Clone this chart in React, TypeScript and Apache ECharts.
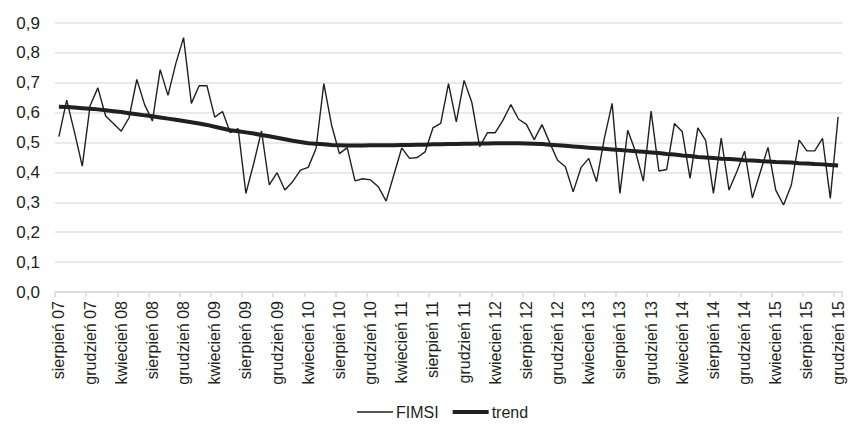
import React, { useEffect, useRef } from "react";
import * as echarts from "echarts";

const MONTHS = ["styczeń", "luty", "marzec", "kwiecień", "maj", "czerwiec", "lipiec", "sierpień", "wrzesień", "październik", "listopad", "grudzień"];
const START_YEAR = 2007;
const START_MONTH = 7; // sierpień
const COUNT = 101;
const categories = Array.from({ length: COUNT }, (_, i) => {
  const m = (START_MONTH + i) % 12;
  const y = START_YEAR + Math.floor((START_MONTH + i) / 12);
  return `${MONTHS[m]} ${String(y % 100).padStart(2, "0")}`;
});

const fimsi = [
  0.52, 0.642, 0.535, 0.421, 0.623, 0.683, 0.589, 0.564, 0.538, 0.583,
  0.711, 0.627, 0.572, 0.744, 0.658, 0.764, 0.851, 0.631, 0.69, 0.69,
  0.585, 0.604, 0.533, 0.547, 0.33, 0.43, 0.539, 0.358, 0.399, 0.341,
  0.369, 0.408, 0.417, 0.48, 0.697, 0.558, 0.463, 0.483, 0.372, 0.379,
  0.375, 0.352, 0.304, 0.393, 0.482, 0.447, 0.45, 0.469, 0.549, 0.564,
  0.697, 0.569, 0.708, 0.634, 0.486, 0.533, 0.533, 0.575, 0.627, 0.578,
  0.561, 0.51, 0.56, 0.499, 0.441, 0.419, 0.335, 0.416, 0.447, 0.369,
  0.514, 0.631, 0.33, 0.541, 0.47, 0.371, 0.605, 0.405, 0.41, 0.564,
  0.536, 0.38, 0.549, 0.507, 0.33, 0.515, 0.341, 0.402, 0.471, 0.315,
  0.4, 0.484, 0.341, 0.291, 0.358, 0.508, 0.472, 0.472, 0.514, 0.313,
  0.586,
];

const trend = [
  0.62, 0.619, 0.617, 0.615, 0.613, 0.611, 0.608, 0.605, 0.602, 0.598,
  0.595, 0.591, 0.588, 0.584, 0.58, 0.576, 0.572, 0.568, 0.564, 0.559,
  0.553, 0.547, 0.541, 0.538, 0.534, 0.53, 0.525, 0.521, 0.516, 0.511,
  0.506, 0.502, 0.498, 0.496, 0.494, 0.492, 0.491, 0.49, 0.49, 0.49,
  0.491, 0.491, 0.491, 0.491, 0.492, 0.492, 0.493, 0.493, 0.494, 0.494,
  0.495, 0.495, 0.496, 0.496, 0.497, 0.497, 0.498, 0.498, 0.498, 0.498,
  0.497, 0.496, 0.495, 0.493, 0.491, 0.489, 0.487, 0.485, 0.483, 0.481,
  0.479, 0.477, 0.475, 0.473, 0.471, 0.469, 0.467, 0.465, 0.462, 0.46,
  0.457, 0.455, 0.452, 0.45, 0.448, 0.446, 0.445, 0.443, 0.441, 0.44,
  0.438, 0.437, 0.435, 0.434, 0.433, 0.431, 0.43, 0.428, 0.427, 0.425,
  0.423,
];

const Y_MIN = 0;
const Y_MAX = 0.9;
const Y_STEP = 0.1;

const FONT = "'Liberation Sans', Arial, Helvetica, sans-serif";
const INK = "#231f20";

export default function App() {
  const ref = useRef<HTMLDivElement>(null);
  useEffect(() => {
    if (!ref.current) return;
    const chart = echarts.init(ref.current, undefined, { renderer: "svg" });
    chart.setOption({
      animation: false,
      backgroundColor: "#ffffff",
      textStyle: { fontFamily: FONT },
      grid: { left: 55, right: 6, top: 23, bottom: 135, containLabel: false },
      legend: {
        top: 399,
        left: 352,
        itemWidth: 36,
        itemHeight: 16,
        itemGap: 14,
        symbolKeepAspect: true,
        textStyle: { fontFamily: FONT, fontSize: 16, color: INK, padding: [0, 0, 0, -2] },
        data: [
          { name: "FIMSI", icon: "path://M0,0H36V1.4H0Z" },
          { name: "trend", icon: "path://M0,0H36V4H0Z" },
        ],
      },
      xAxis: {
        type: "category",
        data: categories,
        boundaryGap: true,
        axisLine: { show: true, lineStyle: { color: "#d9d9d9", width: 1.5 } },
        axisTick: { show: true, interval: 3, length: 5, lineStyle: { color: "#d9d9d9", width: 1.5 } },
        axisLabel: {
          interval: 3,
          rotate: 90,
          margin: 9,
          fontSize: 16,
          color: INK,
          fontFamily: FONT,
        },
        splitLine: { show: false },
      },
      yAxis: {
        type: "value",
        min: Y_MIN,
        max: Y_MAX,
        interval: Y_STEP,
        axisLine: { show: false },
        axisTick: { show: false },
        axisLabel: {
          fontSize: 17,
          color: INK,
          margin: 15,
          fontFamily: FONT,
          formatter: (v: number) => v.toFixed(1).replace(".", ","),
        },
        splitLine: { show: true, lineStyle: { color: "#e2e2e2", width: 1.5 } },
      },
      series: [
        {
          name: "FIMSI",
          type: "line",
          data: fimsi,
          symbol: "none",
          lineStyle: { color: INK, width: 1.4 },
          itemStyle: { color: INK },
        },
        {
          name: "trend",
          type: "line",
          data: trend,
          symbol: "none",
          lineStyle: { color: INK, width: 4 },
          itemStyle: { color: INK },
          z: 3,
        },
      ],
    });
    return () => chart.dispose();
  }, []);
  return (
    <div
      ref={ref}
      style={{ position: "absolute", left: 0, top: 0, width: 848, height: 427 }}
    />
  );
}
